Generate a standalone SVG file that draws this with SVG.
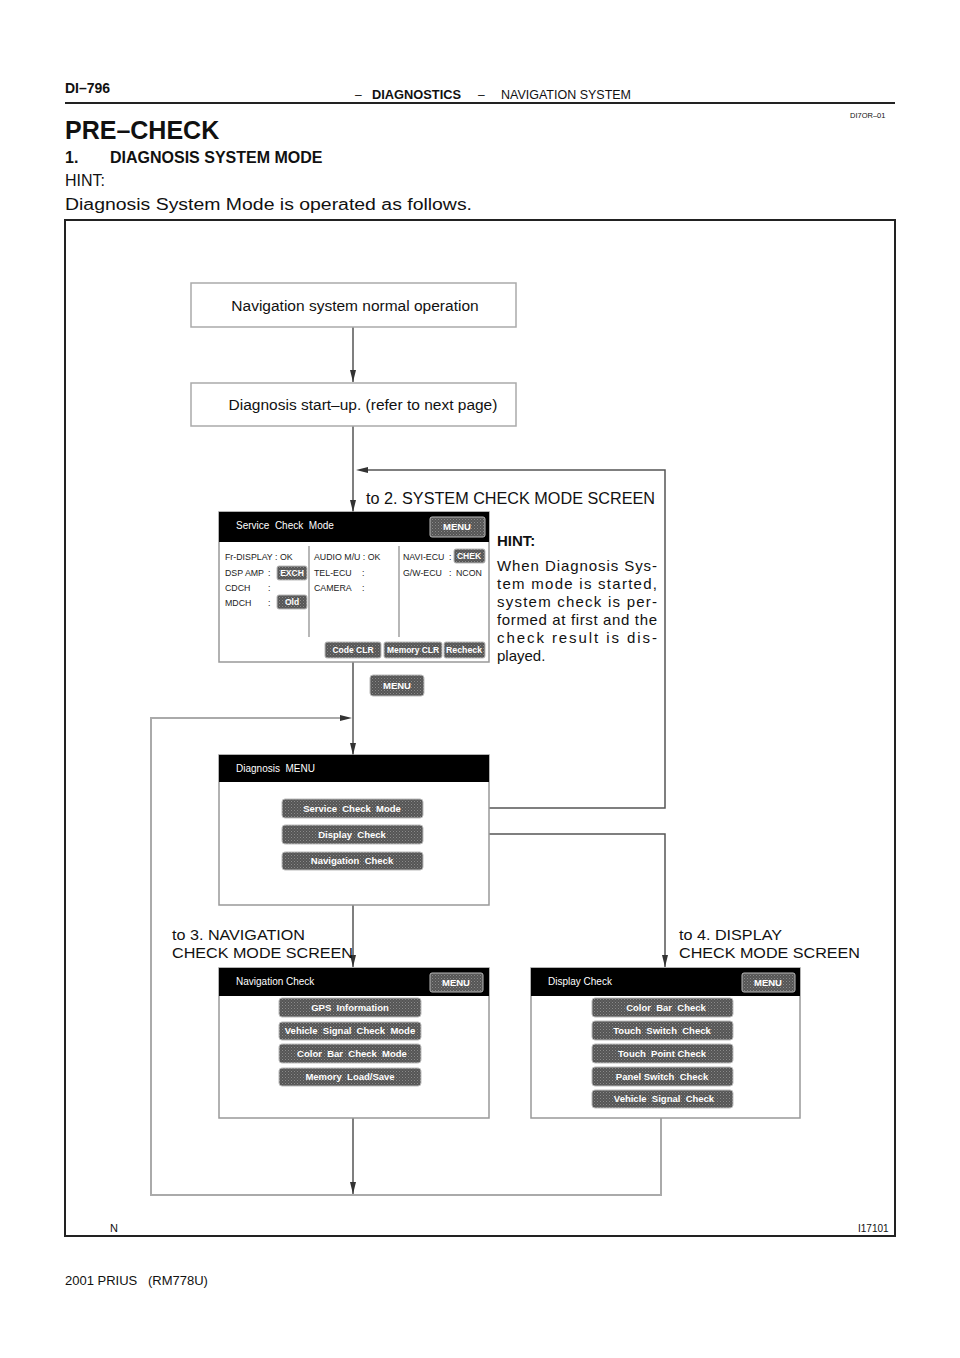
<svg xmlns="http://www.w3.org/2000/svg" width="960" height="1358" viewBox="0 0 960 1358">
<defs>
<pattern id="stip" width="3" height="3" patternUnits="userSpaceOnUse">
<rect width="3" height="3" fill="#555"/>
<rect x="0" y="0" width="1" height="1" fill="#8a8a8a"/>
<rect x="1.5" y="1.5" width="1" height="1" fill="#777"/>
</pattern>
<marker id="ah" viewBox="0 0 12 6" refX="12" refY="3" markerWidth="12" markerHeight="6" markerUnits="userSpaceOnUse" orient="auto">
<path d="M0,0 L12,3 L0,6 Z" fill="#333"/>
</marker>
<style>
.t{font-family:"Liberation Sans",Arial,sans-serif;fill:#111}
.b{font-weight:bold}
.box{fill:#fff;stroke:#aaa;stroke-width:1.5}
.scr{fill:#fff;stroke:#999;stroke-width:1.5}
.bar{fill:#000}
.btn{fill:url(#stip);stroke:#bbb;stroke-width:1}
.bt{font-family:"Liberation Sans",Arial,sans-serif;font-weight:bold;fill:#fff;font-size:9.5px;text-anchor:middle}
.bs{font-family:"Liberation Sans",Arial,sans-serif;font-weight:bold;fill:#fff;font-size:8.5px;text-anchor:middle}
.st{font-family:"Liberation Sans",Arial,sans-serif;fill:#222;font-size:8.8px}
.wt{font-family:"Liberation Sans",Arial,sans-serif;fill:#fff;font-size:10px}
.c{fill:none;stroke:#555;stroke-width:1.5}
.ca{fill:none;stroke:#555;stroke-width:1.5;marker-end:url(#ah)}
.g{fill:none;stroke:#aaa;stroke-width:2}
</style>
</defs>
<rect width="960" height="1358" fill="#fff"/>

<g id="header">
<text class="t b" x="65" y="93" font-size="14">DI–796</text>
<text class="t" x="355" y="99" font-size="12">–</text>
<text class="t b" x="372" y="99" font-size="12" textLength="89" lengthAdjust="spacingAndGlyphs">DIAGNOSTICS</text>
<text class="t" x="478" y="99" font-size="12">–</text>
<text class="t" x="501" y="99" font-size="12" textLength="130" lengthAdjust="spacingAndGlyphs">NAVIGATION SYSTEM</text>
<line x1="65" y1="103" x2="895" y2="103" stroke="#222" stroke-width="2"/>
<text class="t" x="850" y="118" font-size="7.5" fill="#444">DI7OR–01</text>
<text class="t b" x="65" y="139" font-size="25">PRE–CHECK</text>
<text class="t b" x="65" y="163" font-size="16">1.</text>
<text class="t b" x="110" y="163" font-size="16">DIAGNOSIS SYSTEM MODE</text>
<text class="t" x="65" y="186" font-size="16">HINT:</text>
<text class="t" x="65" y="210" font-size="16" textLength="407" lengthAdjust="spacingAndGlyphs">Diagnosis System Mode is operated as follows.</text>
</g>

<g id="frame">
<rect x="65" y="220" width="830" height="1016" fill="none" stroke="#222" stroke-width="2"/>
<text class="t" x="110" y="1232" font-size="11" fill="#666">N</text>
<text class="t" x="858" y="1232" font-size="10" fill="#333">I17101</text>
</g>

<g id="footer">
<text class="t" x="65" y="1285" font-size="13">2001 PRIUS</text>
<text class="t" x="148" y="1285" font-size="13">(RM778U)</text>
</g>

<g id="connectors">
<line class="ca" x1="353" y1="327" x2="353" y2="382"/>
<line class="ca" x1="353" y1="426" x2="353" y2="512"/>
<polyline class="c" points="423,808 665,808 665,470 368,470"/>
<path d="M356,470 L368,467 L368,473 Z" fill="#333"/>
<line class="ca" x1="353" y1="662" x2="353" y2="755"/>
<polyline class="g" points="661,1118 661,1195 151,1195 151,718 340,718"/>
<path d="M352,718 L340,715 L340,721 Z" fill="#333"/>
<polyline class="ca" points="423,834 665,834 665,967"/>
<line class="ca" x1="353" y1="870" x2="353" y2="967"/>
<line class="ca" x1="353" y1="1118" x2="353" y2="1194"/>
</g>

<g id="n-normal">
<rect class="box" x="191" y="283" width="325" height="44"/>
<text class="t" x="355" y="311" font-size="15.5" text-anchor="middle" fill="#222">Navigation system normal operation</text>
</g>

<g id="n-startup">
<rect class="box" x="191" y="383" width="325" height="43"/>
<text class="t" x="363" y="410" font-size="15.5" text-anchor="middle" fill="#222">Diagnosis start–up. (refer to next page)</text>
</g>

<g id="l-to2">
<text class="t" x="366" y="504" font-size="16" textLength="289" lengthAdjust="spacingAndGlyphs">to 2. SYSTEM CHECK MODE SCREEN</text>
</g>

<g id="n-service">
<rect class="scr" x="219" y="512" width="270" height="150"/>
<rect class="bar" x="219" y="512" width="270" height="30"/>
<text class="wt" x="236" y="529" xml:space="preserve">Service  Check  Mode</text>
<rect class="btn" x="430" y="517" width="55" height="20" rx="2"/>
<text class="bt" x="457" y="530">MENU</text>
<line x1="309" y1="546" x2="309" y2="637" stroke="#888" stroke-width="1.2"/>
<line x1="399" y1="546" x2="399" y2="637" stroke="#888" stroke-width="1.2"/>
<text class="st" x="225" y="560">Fr-DISPLAY : OK</text>
<text class="st" x="225" y="576">DSP AMP</text>
<text class="st" x="268" y="576">:</text>
<rect class="btn" x="277" y="566" width="30" height="14" rx="2"/>
<text class="bs" x="292" y="576">EXCH</text>
<text class="st" x="225" y="591">CDCH</text>
<text class="st" x="268" y="591">:</text>
<text class="st" x="225" y="606">MDCH</text>
<text class="st" x="268" y="606">:</text>
<rect class="btn" x="277" y="595" width="30" height="14" rx="2"/>
<text class="bs" x="292" y="605">Old</text>
<text class="st" x="314" y="560">AUDIO M/U : OK</text>
<text class="st" x="314" y="576">TEL-ECU</text>
<text class="st" x="362" y="576">:</text>
<text class="st" x="314" y="591">CAMERA</text>
<text class="st" x="362" y="591">:</text>
<text class="st" x="403" y="560">NAVI-ECU</text>
<text class="st" x="449" y="560">:</text>
<rect class="btn" x="454" y="549" width="31" height="14" rx="2"/>
<text class="bs" x="469" y="559">CHEK</text>
<text class="st" x="403" y="576">G/W-ECU</text>
<text class="st" x="449" y="576">:</text>
<text class="st" x="456" y="576">NCON</text>
<rect class="btn" x="325" y="642" width="56" height="16" rx="2"/>
<text class="bs" x="353" y="653">Code CLR</text>
<rect class="btn" x="384" y="642" width="58" height="16" rx="2"/>
<text class="bs" x="413" y="653" textLength="52" lengthAdjust="spacingAndGlyphs">Memory CLR</text>
<rect class="btn" x="444" y="642" width="41" height="16" rx="2"/>
<text class="bs" x="464" y="653" textLength="36" lengthAdjust="spacingAndGlyphs">Recheck</text>
</g>

<g id="n-hint">
<text class="t b" x="497" y="546" font-size="15">HINT:</text>
<text class="t" x="497" y="571" font-size="15" textLength="160" lengthAdjust="spacing">When Diagnosis Sys-</text>
<text class="t" x="497" y="589" font-size="15" textLength="160" lengthAdjust="spacing">tem mode is started,</text>
<text class="t" x="497" y="607" font-size="15" textLength="160" lengthAdjust="spacing">system check is per-</text>
<text class="t" x="497" y="625" font-size="15" textLength="160" lengthAdjust="spacing">formed at first and the</text>
<text class="t" x="497" y="643" font-size="15" textLength="160" lengthAdjust="spacing">check result is dis-</text>
<text class="t" x="497" y="661" font-size="15">played.</text>
</g>

<g id="n-menu">
<rect class="btn" x="370" y="675" width="54" height="21" rx="3"/>
<text class="bt" x="397" y="689">MENU</text>
</g>

<g id="n-diagmenu">
<rect class="scr" x="219" y="755" width="270" height="150"/>
<rect class="bar" x="219" y="755" width="270" height="27"/>
<text class="wt" x="236" y="772" xml:space="preserve">Diagnosis  MENU</text>
<rect class="btn" x="282" y="799" width="141" height="19" rx="3"/>
<text class="bt" x="352" y="812" xml:space="preserve">Service  Check  Mode</text>
<rect class="btn" x="282" y="825" width="141" height="19" rx="3"/>
<text class="bt" x="352" y="838" xml:space="preserve">Display  Check</text>
<rect class="btn" x="282" y="852" width="141" height="18" rx="3"/>
<text class="bt" x="352" y="864" xml:space="preserve">Navigation  Check</text>
</g>

<g id="l-to3">
<text class="t" x="172" y="940" font-size="15.5" textLength="133" lengthAdjust="spacingAndGlyphs">to 3. NAVIGATION</text>
<text class="t" x="172" y="958" font-size="15.5" textLength="181" lengthAdjust="spacingAndGlyphs">CHECK MODE SCREEN</text>
</g>

<g id="l-to4">
<text class="t" x="679" y="940" font-size="15.5" textLength="103" lengthAdjust="spacingAndGlyphs">to 4. DISPLAY</text>
<text class="t" x="679" y="958" font-size="15.5" textLength="181" lengthAdjust="spacingAndGlyphs">CHECK MODE SCREEN</text>
</g>

<g id="n-navcheck">
<rect class="scr" x="219" y="968" width="270" height="150"/>
<rect class="bar" x="219" y="968" width="270" height="28"/>
<text class="wt" x="236" y="985">Navigation Check</text>
<rect class="btn" x="430" y="973" width="53" height="19" rx="2"/>
<text class="bt" x="456" y="986">MENU</text>
<rect class="btn" x="279" y="998" width="142" height="19" rx="3"/>
<text class="bt" x="350" y="1011" xml:space="preserve">GPS  Information</text>
<rect class="btn" x="279" y="1022" width="142" height="18" rx="3"/>
<text class="bt" x="350" y="1034" xml:space="preserve">Vehicle  Signal  Check  Mode</text>
<rect class="btn" x="279" y="1044" width="142" height="19" rx="3"/>
<text class="bt" x="352" y="1057" xml:space="preserve">Color  Bar  Check  Mode</text>
<rect class="btn" x="279" y="1068" width="142" height="18" rx="3"/>
<text class="bt" x="350" y="1080" xml:space="preserve">Memory  Load/Save</text>
</g>

<g id="n-dispcheck">
<rect class="scr" x="531" y="968" width="269" height="150"/>
<rect class="bar" x="531" y="968" width="269" height="28"/>
<text class="wt" x="548" y="985">Display Check</text>
<rect class="btn" x="742" y="973" width="53" height="19" rx="2"/>
<text class="bt" x="768" y="986">MENU</text>
<rect class="btn" x="592" y="998" width="141" height="19" rx="3"/>
<text class="bt" x="666" y="1011" xml:space="preserve">Color  Bar  Check</text>
<rect class="btn" x="592" y="1021" width="141" height="19" rx="3"/>
<text class="bt" x="662" y="1034" xml:space="preserve">Touch  Switch  Check</text>
<rect class="btn" x="592" y="1044" width="141" height="19" rx="3"/>
<text class="bt" x="662" y="1057" xml:space="preserve">Touch  Point Check</text>
<rect class="btn" x="592" y="1067" width="141" height="19" rx="3"/>
<text class="bt" x="662" y="1080" xml:space="preserve">Panel Switch  Check</text>
<rect class="btn" x="592" y="1090" width="141" height="18" rx="3"/>
<text class="bt" x="664" y="1102" xml:space="preserve">Vehicle  Signal  Check</text>
</g>
</svg>
